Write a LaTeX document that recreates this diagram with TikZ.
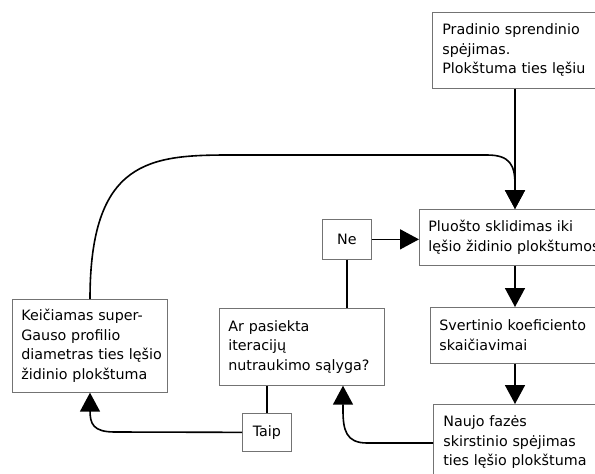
\documentclass[tikz,border=0pt]{standalone}
\usepackage{fontspec}
\setmainfont{DejaVu Sans}
\usetikzlibrary{arrows.meta}
\begin{document}
\begin{tikzpicture}[x=1pt,y=-1pt,
  box/.style={draw=black!55, line width=0.7pt, fill=white, anchor=north west,
    align=left, inner xsep=9pt, inner ysep=0pt,
    font=\fontsize{14.3}{19.5}\selectfont},
  lbl/.style={draw=black!55, line width=0.7pt, fill=white, anchor=north west,
    align=center, inner sep=0pt, font=\fontsize{14.3}{19.5}\selectfont},
  conn/.style={line width=1.6pt, black},
  arr/.style={conn, -{Triangle[width=20pt,length=19pt]}}]
\useasboundingbox (0,0) rectangle (595,474);
\clip (0,0) rectangle (595,474);
% boxes
\node[box, inner xsep=10pt, text width=150pt, minimum height=76pt] (top) at (432,12)
  {Pradinio sprendinio\\spėjimas.\\Plokštuma ties lęšiu};
\node[box, text width=190pt, minimum height=56pt] (pluosto) at (419,209)
  {Pluošto sklidimas iki\\lęšio židinio plokštumos};
\node[box, text width=190pt, minimum height=56pt] (svert) at (430,307)
  {Svertinio koeficiento\\skaičiavimai};
\node[box, inner xsep=10pt, text width=190pt, minimum height=76pt] (naujo) at (433,404)
  {Naujo fazės\\skirstinio spėjimas\\ties lęšio plokštuma};
\node[box, text width=137pt, minimum height=93pt] (keic) at (12,299)
  {Keičiamas super-\\Gauso profilio\\\mbox{diametras ties lęšio}\\židinio plokštuma};
\node[box, text width=147pt, minimum height=77pt] (ar) at (219,308)
  {Ar pasiekta\\iteracijų\\\mbox{nutraukimo sąlyga?}};
\node[lbl, minimum width=49pt, minimum height=40pt] (ne) at (322,219) {Ne};
\node[lbl, minimum width=49pt, minimum height=38pt] (taip) at (242,413) {Taip};
\coordinate (col) at (515,0);
\coordinate (kx) at (90,0);
\coordinate (ax) at (343,0);
% connectors
\draw[arr] (top.south -| col) -- (pluosto.north -| col);
\draw[arr] (pluosto.south -| col) -- (svert.north -| col);
\draw[arr] (svert.south -| col) -- (naujo.north -| col);
\draw[arr] (keic.north -| kx) .. controls (90,160) and (150,155) .. (230,155)
  -- (487,155) .. controls (510,155) and (515,165) .. (515,185) -- (pluosto.north -| col);
\draw[arr] (ne.east) -- (ne.east -| pluosto.west);
\draw[conn] (ne.south) -- (ne.south |- ar.north);
\draw[conn] (taip.north) -- (taip.north |- ar.south);
\draw[arr] (naujo.west |- 0,443) -- (367,443) .. controls (346,443) and (343,430) .. (343,410)
  -- (ar.south -| ax);
\draw[arr] (taip.west) -- (115,432) .. controls (93,432) and (90,424) .. (90,410)
  -- (keic.south -| kx);
\end{tikzpicture}
\end{document}
